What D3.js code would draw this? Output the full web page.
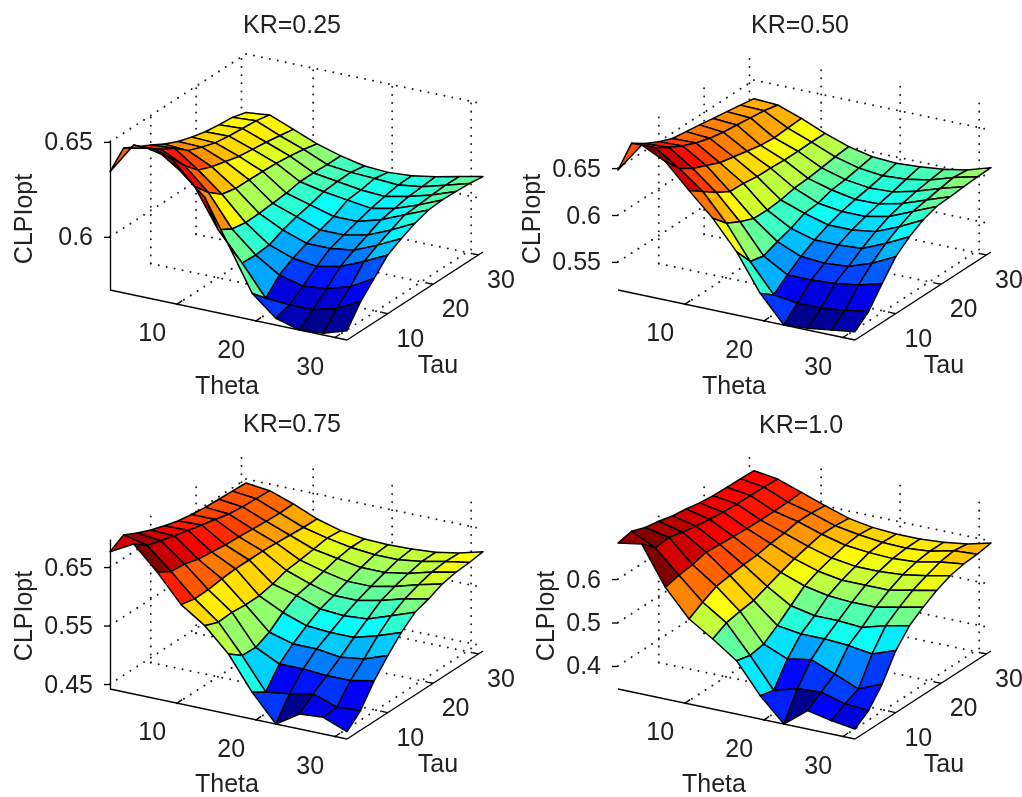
<!DOCTYPE html>
<html><head><meta charset="utf-8">
<script src="https://cdn.jsdelivr.net/npm/d3@7/dist/d3.min.js"></script>
<style>html,body{margin:0;padding:0;background:#fff}svg{display:block;filter:blur(0.5px)}text{font-family:"Liberation Sans",Arial,sans-serif;fill:#222}</style>
</head><body><svg id="c" width="1022" height="797"></svg>
<script>
const thetaValues=[1.5,4.5,7.5,10.5,13.5,16.5,19.5,22.5,25.5,28.5,31.5];
const tauValues=[1,4,7,10,13,16,19,22,25,28,31];
const axisTicks=[10,20,30];
const titles=["KR=0.25","KR=0.50","KR=0.75","KR=1.0"];
const zTicks=[[0.6,0.65],[0.55,0.6,0.65],[0.45,0.55,0.65],[0.4,0.5,0.6]];
const clpi025=[
[.6343,.6421,.6382,.6345,.6303,.6270,.6247,.6229,.6219,.6212,.6191],
[.6510,.6447,.6394,.6354,.6295,.6267,.6243,.6232,.6226,.6220,.6205],
[.6507,.6420,.6335,.6265,.6236,.6217,.6198,.6189,.6180,.6168,.6155],
[.6422,.6298,.6220,.6164,.6148,.6147,.6145,.6141,.6133,.6122,.6105],
[.6314,.6096,.6054,.6041,.6043,.6050,.6057,.6071,.6071,.6068,.6068],
[.6089,.5947,.5943,.5950,.5982,.6006,.6022,.6045,.6052,.6054,.6041],
[.5860,.5788,.5864,.5906,.5938,.5962,.5987,.6027,.6034,.6048,.6034],
[.5755,.5780,.5832,.5889,.5938,.5962,.5987,.6010,.6026,.6040,.6043],
[.5720,.5780,.5846,.5915,.5955,.5989,.6022,.6036,.6052,.6057,.6064],
[.5729,.5815,.5882,.5968,.6008,.6041,.6075,.6080,.6087,.6092,.6091],
[.5769,.5876,.5952,.6029,.6069,.6103,.6127,.6133,.6131,.6127,.6117]];
const clpi050=[
[.6480,.6672,.6576,.6501,.6441,.6420,.6398,.6373,.6352,.6327,.6302],
[.6800,.6676,.6587,.6509,.6445,.6402,.6373,.6356,.6338,.6320,.6288],
[.6676,.6512,.6416,.6352,.6288,.6256,.6224,.6192,.6178,.6189,.6199],
[.6420,.6317,.6213,.6128,.6121,.6100,.6096,.6089,.6089,.6093,.6093],
[.6178,.6032,.5954,.5893,.5890,.5904,.5936,.5947,.5965,.5989,.6004],
[.5876,.5677,.5641,.5701,.5748,.5815,.5829,.5876,.5893,.5922,.5950],
[.5484,.5374,.5492,.5595,.5677,.5744,.5794,.5829,.5858,.5893,.5933],
[.5200,.5339,.5492,.5577,.5677,.5744,.5794,.5833,.5869,.5911,.5950],
[.5218,.5339,.5509,.5595,.5694,.5780,.5847,.5893,.5929,.5954,.5975],
[.5253,.5367,.5545,.5684,.5801,.5886,.5954,.5982,.6011,.6036,.6021],
[.5289,.5410,.5616,.5808,.5925,.6011,.6061,.6071,.6085,.6096,.6100]];
const clpi075=[
[.6763,.6900,.6781,.6684,.6604,.6535,.6496,.6467,.6456,.6444,.6433],
[.6980,.6803,.6735,.6667,.6610,.6553,.6496,.6439,.6410,.6399,.6387],
[.6581,.6444,.6421,.6353,.6325,.6296,.6285,.6268,.6250,.6239,.6245],
[.6114,.6062,.6068,.6102,.6125,.6125,.6125,.6114,.6097,.6079,.6074],
[.5840,.5749,.5766,.5743,.5749,.5800,.5880,.5908,.5943,.5983,.5960],
[.5441,.5264,.5253,.5361,.5549,.5686,.5737,.5800,.5869,.5908,.5903],
[.4871,.4723,.5053,.5247,.5407,.5544,.5623,.5715,.5800,.5869,.5891],
[.4415,.4780,.5053,.5247,.5378,.5515,.5623,.5715,.5800,.5869,.5903],
[.4672,.4865,.5025,.5190,.5378,.5544,.5709,.5800,.5869,.5926,.5931],
[.4700,.4723,.5029,.5247,.5492,.5686,.5823,.5914,.5983,.6011,.6005],
[.4540,.4751,.5110,.5390,.5635,.5829,.5908,.6011,.6062,.6079,.6114]];
const clpi100=[
[.6829,.6898,.6783,.6722,.6645,.6599,.6538,.6500,.6492,.6484,.6469],
[.6922,.6630,.6668,.6584,.6523,.6477,.6438,.6423,.6415,.6408,.6392],
[.6039,.6116,.6155,.6239,.6216,.6193,.6178,.6170,.6170,.6178,.6201],
[.5426,.5610,.5771,.5817,.5863,.5886,.5947,.5986,.6047,.6039,.6009],
[.5081,.5249,.5311,.5357,.5480,.5602,.5710,.5794,.5871,.5863,.5832],
[.4697,.4613,.4674,.4897,.5150,.5403,.5541,.5641,.5733,.5771,.5740],
[.4007,.3923,.4444,.4820,.5035,.5295,.5449,.5564,.5679,.5710,.5702],
[.3470,.4076,.4544,.4820,.5035,.5257,.5449,.5564,.5656,.5694,.5702],
[.3892,.4114,.4329,.4782,.4996,.5257,.5449,.5602,.5694,.5740,.5740],
[.3777,.3961,.4099,.4705,.5150,.5372,.5564,.5694,.5809,.5863,.5817],
[.3700,.3923,.4329,.4897,.5265,.5487,.5671,.5809,.5878,.5901,.5955]];
const surfaces=[clpi025,clpi050,clpi075,clpi100];

const layout=[
 {ox:110,oy:290,titleX:292,titleY:33,zLabX:32,zLabY:219,thetaX:227,thetaY:394,tauX:438,tauY:373,zLine:true},
 {ox:618,oy:290,titleX:800,titleY:33,zLabX:540,zLabY:219,thetaX:734,thetaY:394,tauX:944,tauY:373,zLine:false},
 {ox:110,oy:689,titleX:292,titleY:432,zLabX:32,zLabY:616,thetaX:227,thetaY:792,tauX:438,tauY:772,zLine:true},
 {ox:618,oy:689,titleX:801,titleY:433,zLabX:554,zLabY:616,thetaX:714,thetaY:792,tauX:944,tauY:772,zLine:false}];
const FS=25, BOX={tx:237,ty:50,ux:136,uy:-88,h:150};
const jet=d3.scaleLinear().domain([0,.125,.375,.625,.875,1]).range(["#00008f","#0000ff","#00ffff","#ffff00","#ff0000","#800000"]);
const svg=d3.select("#c");
surfaces.forEach((Z,p)=>{
 const L=layout[p], g=svg.append("g");
 const ext=d3.extent(Z.flat());
 const sT=d3.scaleLinear().domain(d3.extent(thetaValues)).range([0,1]);
 const sU=d3.scaleLinear().domain(d3.extent(tauValues)).range([0,1]);
 const sZ=d3.scaleLinear().domain(ext).range([L.oy,L.oy-BOX.h]);
 const col=d3.scaleLinear().domain(ext).range([0,1]);
 const P=(t,u,z)=>[L.ox+sT(t)*BOX.tx+sU(u)*BOX.ux, sZ(z)+sT(t)*BOX.ty+sU(u)*BOX.uy];
 const tMin=thetaValues[0],tMax=thetaValues[10],uMin=tauValues[0],uMax=tauValues[10];
 const seg=(a,b,cls)=>{const l=g.append("line").attr("x1",a[0]).attr("y1",a[1]).attr("x2",b[0]).attr("y2",b[1]).attr("stroke","#000");
   if(cls==="dot")l.attr("stroke","#222").attr("stroke-width",2).attr("stroke-linecap","round").attr("stroke-dasharray","0.01 8.1");else l.attr("stroke-width",1.35);return l;};
 // grid
 axisTicks.forEach(v=>{
  seg(P(v,uMin,ext[0]),P(v,uMax,ext[0]),"dot");
  seg(P(v,uMax,ext[0]),P(v,uMax,ext[1]),"dot");
  seg(P(tMin,v,ext[0]),P(tMax,v,ext[0]),"dot");
  seg(P(tMin,v,ext[0]),P(tMin,v,ext[1]),"dot");
 });
 zTicks[p].forEach(v=>{
  seg(P(tMin,uMin,v),P(tMin,uMax,v),"dot");
  seg(P(tMin,uMax,v),P(tMax,uMax,v),"dot");
 });
 // axes
 seg(P(tMin,uMin,ext[0]),P(tMax,uMin,ext[0]));
 seg(P(tMax,uMin,ext[0]),P(tMax,uMax,ext[0]));
 axisTicks.forEach(v=>{
  const a=P(v,uMin,ext[0]);
  seg(a,[a[0]+5,a[1]-3.5]);
  g.append("text").attr("x",a[0]-25).attr("y",a[1]+37).attr("text-anchor","middle").attr("font-size",FS).text(v);
  const b=P(tMax,v,ext[0]);
  seg(b,[b[0]-6,b[1]-1.2]);
  g.append("text").attr("x",b[0]+22.5).attr("y",b[1]+33).attr("text-anchor","middle").attr("font-size",FS).text(v);
 });
 // z axis
 const zAxis=d3.axisLeft(sZ).tickValues(zTicks[p]).tickSize(6).tickSizeOuter(0).tickPadding(11).tickFormat(d3.format(".2~f"));
 const za=g.append("g").attr("transform",`translate(${L.ox},0)`).call(zAxis);
 za.selectAll("text").attr("font-size",FS).attr("font-family",null).style("fill","#222");
 za.selectAll("line").attr("stroke-width",1.35);
 za.select(".domain").attr("stroke-width",1.35).attr("display",L.zLine?null:"none");
 // surface, back to front
 for(let i=0;i<10;i++){for(let j=9;j>=0;j--){
  const pts=[[i,j],[i+1,j],[i+1,j+1],[i,j+1]].map(([a,b])=>P(thetaValues[a],tauValues[b],Z[a][b]));
  g.append("path").attr("d",d3.line()(pts)+"Z").attr("fill",jet(col(Z[i][j]))).attr("stroke","#000").attr("stroke-width",1.5).attr("stroke-linejoin","round");
 }}
 // labels
 const label=(x,y,t,rot)=>{const e=g.append("text").attr("text-anchor","middle").attr("font-size",FS).text(t);
  if(rot)e.attr("transform",`translate(${x},${y}) rotate(-90)`);else e.attr("x",x).attr("y",y);};
 label(L.titleX,L.titleY,titles[p]);
 label(L.zLabX,L.zLabY,"CLPIopt",true);
 label(L.thetaX,L.thetaY,"Theta");
 label(L.tauX,L.tauY,"Tau");
});
</script></body></html>
